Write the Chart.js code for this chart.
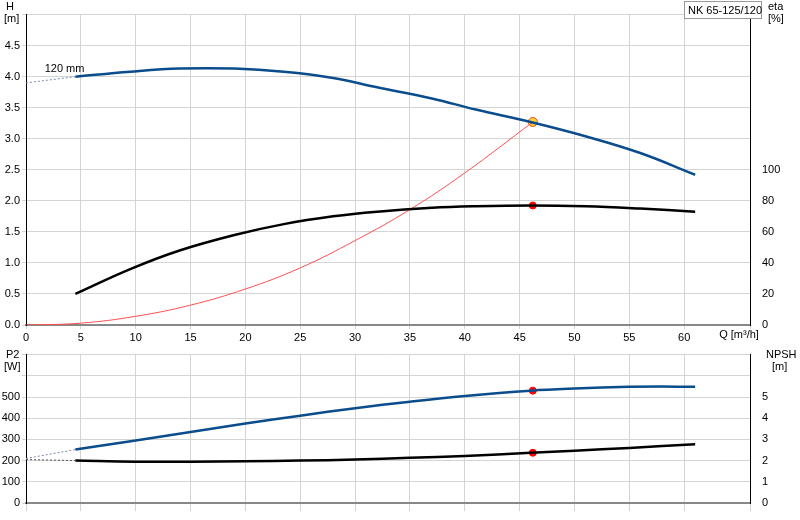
<!DOCTYPE html>
<html><head><meta charset="utf-8">
<script src="https://cdn.jsdelivr.net/npm/chart.js@4"></script>
<style>body{margin:0;background:#fff;font-family:Arial,"Liberation Sans",sans-serif}</style></head>
<body>
<div style="position:absolute;left:0;top:0;width:800px;height:342px"><canvas id="c1"></canvas></div>
<div style="position:absolute;left:0;top:340px;width:800px;height:180px"><canvas id="c2"></canvas></div>
<script>
const qH=[4.5,9.5,14,19,23.5,28,32,37,41,46,51,56,61];
const H=[4.0,4.08,4.13,4.13,4.08,3.98,3.83,3.65,3.47,3.27,3.04,2.77,2.42];
const hExtQ=[0,4.5], hExt=[3.9,4.0];
const qEta=[4.5,9.5,14,19,23.5,28,32,37,41,46,51,56,61];
const eta=[20,36,48,58,65,70,73,75.5,76.5,77,76.5,75,73];
const qSys=[0,5,10,15,20,25,30,35,40,46.2];
const sys=[0,0.03,0.14,0.32,0.58,0.92,1.36,1.86,2.45,3.27];
const qP=[4.5,10,15,20,25,30,35,40,46,50,55,58,61];
const P2=[252,295,335,375,412,447,478,505,530,540,548,550,548];
const pExtQ=[0,4.5], pExt=[210,252];
const qN=[4.5,10,15,20,25,30,35,40,46,50,55,61];
const npsh=[2.0,1.95,1.95,1.97,2.0,2.05,2.13,2.22,2.37,2.47,2.6,2.77];
const nExtQ=[0,4.5], nExt=[2.05,2.0];
const opQ=46.2, opH=3.27, opEta=77, opP2=530, opN=2.37;
const pts=(xs,ys)=>xs.map((x,i)=>({x,y:ys[i]}));
const BLUE='#0b4d8c', GRID='#d4d4d4', F={family:'Arial, "Liberation Sans", sans-serif',size:11};
Chart.defaults.font=F; Chart.defaults.color='#000';
const fitW=w=>(s=>{s.width=w;});
const line=(d,c,w,ax,extra)=>Object.assign({data:d,borderColor:c,borderWidth:w,pointRadius:0,yAxisID:ax,tension:0.4,fill:false},extra||{});
const labels1={id:'l1',afterDraw(ch){const c=ch.ctx;c.save();c.font='11px Arial';c.fillStyle='#000';
 c.fillText('H',6,10);c.fillText('[m]',4,22);c.fillText('eta',768,10);c.fillText('[%]',768,22);
 const xs=ch.scales.x,y=ch.scales.y;c.fillText('120 mm',xs.getPixelForValue(1.7),y.getPixelForValue(4.07));
 c.fillStyle='#fff';c.strokeStyle='#999';c.fillRect(684,1,78,18);c.strokeRect(684.5,1.5,77,17);
 c.fillStyle='#000';c.fillText('NK 65-125/120',688,14);
 c.textAlign='center';c.fillText('Q [m³/h]',xs.getPixelForValue(65),ch.chartArea.bottom+13);c.restore();}};
const labels2={id:'l2',afterDraw(ch){const c=ch.ctx;c.save();c.font='11px Arial';c.fillStyle='#000';
 c.fillText('P2',6,18);c.fillText('[W]',4,30);c.fillText('NPSH',766,18);c.fillText('[m]',772,30);c.restore();}};
new Chart(document.getElementById('c1'),{type:'line',
 data:{datasets:[
  line(pts(hExtQ,hExt),'#7a8aa8',1,'y',{borderDash:[2,2],tension:0}),
  line(pts(qH,H),BLUE,2.5,'y'),
  line(pts(qEta,eta),'#000',2.5,'y2'),
  line(pts(qSys,sys),'#ff5050',1,'y'),
  {data:[{x:opQ,y:opH}],yAxisID:'y',pointRadius:4.5,pointBackgroundColor:'#ffd040',pointBorderColor:'#e05020',borderWidth:1,showLine:false},
  {data:[{x:opQ,y:opEta}],yAxisID:'y2',pointRadius:3.5,pointBackgroundColor:'#ff0000',pointBorderColor:'#ff0000',showLine:false}
 ]},
 options:{responsive:true,maintainAspectRatio:false,animation:false,layout:{padding:{top:-7}},
  plugins:{legend:{display:false},tooltip:{enabled:false}},
  scales:{
   x:{type:'linear',min:0,max:66,ticks:{stepSize:5,padding:2,maxRotation:0,autoSkip:false,callback:v=>v<=60?v:''},
      grid:{color:GRID,tickLength:4},border:{color:'#888',width:2},afterFit:s=>{s.height=17;}},
   y:{min:0,max:5,ticks:{stepSize:0.5,padding:2,callback:v=>v<=4.5?v.toFixed(1):''},grid:{color:GRID,tickLength:4},border:{color:'#000'},afterFit:fitW(26)},
   y2:{position:'right',min:0,max:200,ticks:{stepSize:20,padding:8,callback:v=>v<=100?v:''},grid:{display:false,tickLength:4},border:{color:'#000'},afterFit:fitW(50)}
  }},plugins:[labels1]});
new Chart(document.getElementById('c2'),{type:'line',
 data:{datasets:[
  line(pts(pExtQ,pExt),'#7a8aa8',1,'y',{borderDash:[2,2],tension:0}),
  line(pts(nExtQ,nExt),'#555',1,'y2',{borderDash:[2,2],tension:0}),
  line(pts(qP,P2),BLUE,2.5,'y'),
  line(pts(qN,npsh),'#000',2.5,'y2'),
  {data:[{x:opQ,y:opP2}],yAxisID:'y',pointRadius:3.5,pointBackgroundColor:'#ff0000',pointBorderColor:'#ff0000',showLine:false},
  {data:[{x:opQ,y:opN}],yAxisID:'y2',pointRadius:3.5,pointBackgroundColor:'#ff0000',pointBorderColor:'#ff0000',showLine:false}
 ]},
 options:{responsive:true,maintainAspectRatio:false,animation:false,layout:{padding:{top:5}},
  plugins:{legend:{display:false},tooltip:{enabled:false}},
  scales:{
   x:{type:'linear',min:0,max:66,ticks:{stepSize:5,display:false},grid:{color:GRID},border:{color:'#888',width:2},afterFit:s=>{s.height=17;}},
   y:{min:0,max:700,ticks:{stepSize:100,padding:2,callback:v=>v<=500?v:''},grid:{color:GRID,tickLength:4},border:{color:'#000'},afterFit:fitW(26)},
   y2:{position:'right',min:0,max:7,ticks:{stepSize:1,padding:8,callback:v=>v<=5?v:''},grid:{display:false,tickLength:4},border:{color:'#000'},afterFit:fitW(50)}
  }},plugins:[labels2]});
</script></body></html>
